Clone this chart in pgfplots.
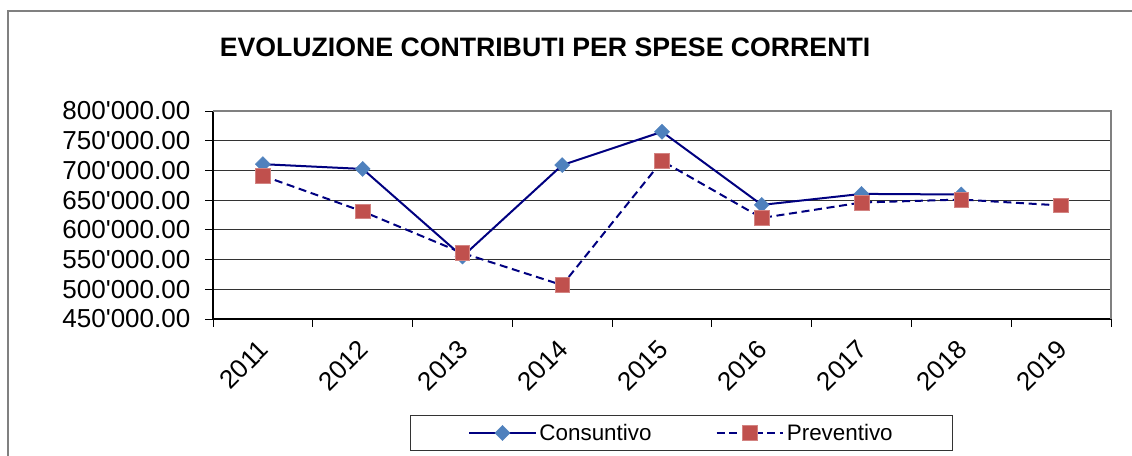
\documentclass[border=0pt]{standalone}
\usepackage{pgfplots}
\pgfplotsset{compat=1.18}
\usepackage{fontspec}
\setmainfont{Liberation Sans}
\definecolor{navyline}{HTML}{000080}
\definecolor{diamfill}{HTML}{4F81BD}
\definecolor{sqfill}{HTML}{C0504D}
\begin{document}
\begin{tikzpicture}
\useasboundingbox (0,0) rectangle (849pt,342pt);
\draw[gray, line width=1pt] (6pt,0pt) -- (6pt,333.75pt) -- (849pt,333.75pt);
\node[font=\fontsize{20}{21}\selectfont\bfseries] at (408.75pt,306.5pt) {EVOLUZIONE CONTRIBUTI PER SPESE CORRENTI};
\begin{axis}[
  at={(159.75pt,102.75pt)}, anchor=south west,
  width=673.5pt, height=156pt, scale only axis,
  xmin=0.5, xmax=9.5, ymin=450000, ymax=800000,
  xtick={0.5,1.5,...,9.5},
  x tick label as interval,
  xticklabels={2011,2012,2013,2014,2015,2016,2017,2018,2019},
  ytick={450000,500000,...,800000},
  scaled y ticks=false,
  /pgf/number format/.cd, fixed, fixed zerofill, precision=2, 1000 sep={\textquotesingle}, assume math mode=true,
  /pgfplots/.cd,
  tick align=outside,
  major tick length=6pt,
  tick style={black, line width=0.6pt},
  ymajorgrids,
  grid style={black!80, line width=0.8pt},
  axis x line*=bottom, axis y line*=left,
  axis line style={black, line width=1pt},
  tick label style={font=\fontsize{19.5}{20}\selectfont},
  yticklabel style={xshift=-7.5pt},
  xticklabel style={rotate=45, anchor=east, xshift=-5.5pt, yshift=-10pt},
  legend columns=2,
  legend style={at={(0.522,-0.548)}, anchor=center, draw=black!80, line width=0.8pt, fill=white,
    font=\fontsize{16.8}{18}\selectfont, inner xsep=43pt, inner ysep=4.5pt,
    /tikz/every even column/.append style={column sep=46pt}},
  legend image code/.code={\draw[mark repeat=2, mark phase=2, #1] plot coordinates {(0pt,0pt) (25pt,0pt) (50pt,0pt)};},
  clip=false,
]
\addplot[navyline, line width=1.5pt, mark=square*, mark size=4pt,
  mark options={solid, rotate=45, fill=diamfill, draw=diamfill, line width=0.3pt}]
  coordinates {(1,710500) (2,702500) (3,555000) (4,709000) (5,765000) (6,642000) (7,660500) (8,659500)};
\addlegendentry{Consuntivo}
\addplot[navyline, line width=1.5pt, dash pattern=on 6pt off 3.5pt, mark=square*, mark size=5.5pt,
  mark options={solid, fill=sqfill, draw=sqfill!70!white, line width=0.5pt}]
  coordinates {(1,691000) (2,631000) (3,561000) (4,507000) (5,716000) (6,620000) (7,646000) (8,651000) (9,641000)};
\addlegendentry{Preventivo}
\draw[gray, line width=1.2pt] (rel axis cs:0,1) -- (rel axis cs:1,1) -- (rel axis cs:1,0);
\end{axis}
\end{tikzpicture}
\end{document}
